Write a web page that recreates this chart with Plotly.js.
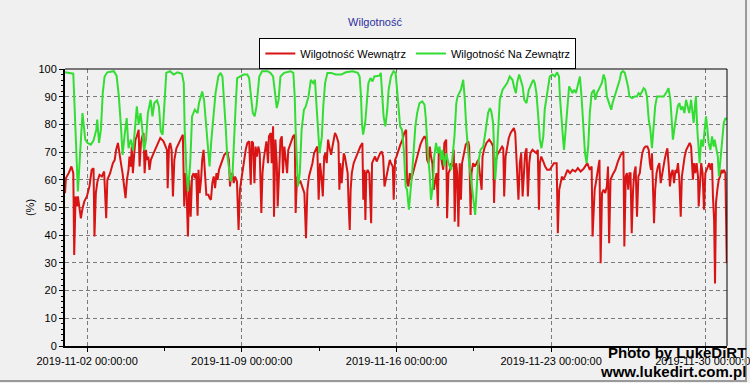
<!DOCTYPE html>
<html>
<head>
<meta charset="utf-8">
<script src="https://cdn.plot.ly/plotly-3.0.1.min.js"></script>
<style>html,body{margin:0;padding:0;background:#f0f0f0;}#chart{width:750px;height:383px;}</style>
</head>
<body>
<div id="chart"></div>
<script>
const seriesNames = ['Wilgotność Wewnątrz', 'Wilgotność Na Zewnątrz'];
const chartTitle = 'Wilgotność';
const yTitle = '(%)';
const tickDates = ['2019-11-02', '2019-11-09', '2019-11-16', '2019-11-23', '2019-11-30'];
const tickLabels = ['2019-11-02 00:00:00', '2019-11-09 00:00:00', '2019-11-16 00:00:00', '2019-11-23 00:00:00', '2019-11-30 00:00:00'];
const watermark = ['Photo by LukeDiRT', 'www.lukedirt.com.pl'];

const redTimes = ['2019-11-01 00:00','2019-11-01 01:00','2019-11-01 04:00','2019-11-01 07:00','2019-11-01 09:00','2019-11-01 10:00','2019-11-01 11:30','2019-11-01 13:00','2019-11-01 14:00','2019-11-01 16:00','2019-11-01 17:15','2019-11-01 18:45','2019-11-01 21:00','2019-11-01 23:45',
'2019-11-02 02:30','2019-11-02 05:00','2019-11-02 07:00','2019-11-02 08:00','2019-11-02 09:30','2019-11-02 11:15','2019-11-02 13:30','2019-11-02 16:00','2019-11-02 18:30','2019-11-02 20:45','2019-11-02 22:00',
'2019-11-03 01:00','2019-11-03 04:00','2019-11-03 06:00','2019-11-03 07:30','2019-11-03 09:30','2019-11-03 11:15','2019-11-03 12:45','2019-11-03 14:30','2019-11-03 16:15','2019-11-03 17:45','2019-11-03 19:15','2019-11-03 21:00','2019-11-03 22:00','2019-11-03 23:30',
'2019-11-04 00:30','2019-11-04 01:45','2019-11-04 03:15','2019-11-04 04:30','2019-11-04 06:00','2019-11-04 08:00','2019-11-04 09:00','2019-11-04 10:30','2019-11-04 12:00','2019-11-04 13:15','2019-11-04 14:30','2019-11-04 16:00','2019-11-04 17:00','2019-11-04 18:30','2019-11-04 19:45','2019-11-04 21:15',
'2019-11-05 00:15','2019-11-05 04:00','2019-11-05 07:30','2019-11-05 11:00','2019-11-05 14:45','2019-11-05 15:30','2019-11-05 17:00','2019-11-05 18:15','2019-11-05 19:45','2019-11-05 21:15','2019-11-05 22:45',
'2019-11-06 01:00','2019-11-06 03:30','2019-11-06 06:00','2019-11-06 08:00','2019-11-06 09:30','2019-11-06 11:00','2019-11-06 12:00','2019-11-06 13:30','2019-11-06 15:00','2019-11-06 16:30','2019-11-06 18:00','2019-11-06 19:45','2019-11-06 21:00','2019-11-06 22:30',
'2019-11-07 00:00','2019-11-07 01:00','2019-11-07 02:15','2019-11-07 03:45','2019-11-07 05:00','2019-11-07 06:30','2019-11-07 08:00','2019-11-07 09:30','2019-11-07 11:45','2019-11-07 13:00','2019-11-07 14:30','2019-11-07 16:00','2019-11-07 17:30','2019-11-07 19:00','2019-11-07 20:30','2019-11-07 21:45','2019-11-07 23:15',
'2019-11-08 02:15','2019-11-08 05:00','2019-11-08 08:15','2019-11-08 10:00','2019-11-08 11:15','2019-11-08 12:15','2019-11-08 13:45','2019-11-08 15:15','2019-11-08 16:45','2019-11-08 18:45','2019-11-08 20:30','2019-11-08 22:00','2019-11-08 23:30',
'2019-11-09 01:00','2019-11-09 02:30','2019-11-09 04:15','2019-11-09 06:00','2019-11-09 08:00','2019-11-09 09:45','2019-11-09 10:45','2019-11-09 12:15','2019-11-09 13:45','2019-11-09 15:00','2019-11-09 16:30','2019-11-09 18:00','2019-11-09 19:30','2019-11-09 21:15','2019-11-09 22:30','2019-11-09 23:45',
'2019-11-10 01:15','2019-11-10 02:45','2019-11-10 04:30','2019-11-10 05:30','2019-11-10 07:30','2019-11-10 08:30','2019-11-10 10:00','2019-11-10 11:00','2019-11-10 12:30','2019-11-10 14:00','2019-11-10 15:00','2019-11-10 16:30','2019-11-10 18:00','2019-11-10 19:30','2019-11-10 20:45','2019-11-10 22:15','2019-11-10 23:45',
'2019-11-11 01:15','2019-11-11 02:30','2019-11-11 05:15','2019-11-11 07:45','2019-11-11 09:30','2019-11-11 10:30','2019-11-11 12:00','2019-11-11 13:30','2019-11-11 15:45','2019-11-11 17:45','2019-11-11 20:00','2019-11-11 21:45','2019-11-11 23:15',
'2019-11-12 01:00','2019-11-12 03:00','2019-11-12 04:45','2019-11-12 06:30','2019-11-12 08:15','2019-11-12 10:00','2019-11-12 11:30','2019-11-12 13:00','2019-11-12 14:30','2019-11-12 16:00','2019-11-12 17:30','2019-11-12 18:45','2019-11-12 20:15','2019-11-12 21:45','2019-11-12 23:00',
'2019-11-13 01:00','2019-11-13 02:30','2019-11-13 04:00','2019-11-13 05:15','2019-11-13 07:00','2019-11-13 09:00','2019-11-13 10:00','2019-11-13 11:00','2019-11-13 12:30','2019-11-13 13:30','2019-11-13 14:45','2019-11-13 16:00','2019-11-13 17:30','2019-11-13 19:00','2019-11-13 20:00','2019-11-13 21:15','2019-11-13 22:15','2019-11-13 23:30',
'2019-11-14 01:30','2019-11-14 04:00','2019-11-14 06:30','2019-11-14 08:45','2019-11-14 11:00','2019-11-14 12:00','2019-11-14 13:15','2019-11-14 14:15','2019-11-14 15:15','2019-11-14 16:45','2019-11-14 18:30','2019-11-14 20:30','2019-11-14 21:30','2019-11-14 23:00',
'2019-11-15 00:45','2019-11-15 02:30','2019-11-15 04:30','2019-11-15 06:15','2019-11-15 08:00','2019-11-15 09:30','2019-11-15 11:00','2019-11-15 12:15','2019-11-15 13:45','2019-11-15 15:15','2019-11-15 16:45','2019-11-15 18:00','2019-11-15 20:00','2019-11-15 21:00','2019-11-15 22:30',
'2019-11-16 00:00','2019-11-16 02:00','2019-11-16 04:15','2019-11-16 06:30','2019-11-16 08:30','2019-11-16 10:30','2019-11-16 11:30','2019-11-16 13:00','2019-11-16 14:30','2019-11-16 16:00','2019-11-16 17:45','2019-11-16 19:30','2019-11-16 21:45','2019-11-16 23:45',
'2019-11-17 02:00','2019-11-17 04:15','2019-11-17 06:30','2019-11-17 08:15','2019-11-17 09:15','2019-11-17 10:45','2019-11-17 12:15','2019-11-17 13:30','2019-11-17 15:00','2019-11-17 16:30','2019-11-17 18:00','2019-11-17 19:30','2019-11-17 21:00','2019-11-17 22:00','2019-11-17 23:45',
'2019-11-18 01:15','2019-11-18 02:45','2019-11-18 04:00','2019-11-18 06:00','2019-11-18 07:00','2019-11-18 08:30','2019-11-18 10:00','2019-11-18 11:30','2019-11-18 12:45','2019-11-18 14:15','2019-11-18 15:15','2019-11-18 16:45','2019-11-18 18:00','2019-11-18 19:15','2019-11-18 20:45','2019-11-18 22:00','2019-11-18 23:15',
'2019-11-19 01:00','2019-11-19 03:15','2019-11-19 06:00','2019-11-19 07:00','2019-11-19 08:30','2019-11-19 09:30','2019-11-19 11:15','2019-11-19 13:00','2019-11-19 15:00','2019-11-19 16:45','2019-11-19 17:45','2019-11-19 19:15','2019-11-19 20:30','2019-11-19 21:30','2019-11-19 23:30',
'2019-11-20 01:45','2019-11-20 04:45','2019-11-20 07:15','2019-11-20 09:00','2019-11-20 10:00','2019-11-20 11:15','2019-11-20 13:30','2019-11-20 16:15','2019-11-20 18:45','2019-11-20 20:00','2019-11-20 21:00','2019-11-20 22:30',
'2019-11-21 00:15','2019-11-21 02:00','2019-11-21 04:00','2019-11-21 05:45','2019-11-21 07:30','2019-11-21 09:00','2019-11-21 10:30','2019-11-21 11:30','2019-11-21 12:30','2019-11-21 14:00','2019-11-21 15:30','2019-11-21 17:00','2019-11-21 18:30','2019-11-21 19:45','2019-11-21 21:15','2019-11-21 22:45',
'2019-11-22 00:15','2019-11-22 01:30','2019-11-22 03:45','2019-11-22 06:15','2019-11-22 08:00','2019-11-22 09:30','2019-11-22 10:45','2019-11-22 11:45','2019-11-22 13:15','2019-11-22 15:30','2019-11-22 17:30','2019-11-22 19:45','2019-11-22 22:30',
'2019-11-23 00:45','2019-11-23 03:00','2019-11-23 06:00','2019-11-23 07:15','2019-11-23 08:45','2019-11-23 10:15','2019-11-23 11:45','2019-11-23 13:00','2019-11-23 15:15','2019-11-23 17:45','2019-11-23 20:30','2019-11-23 23:15',
'2019-11-24 02:15','2019-11-24 05:00','2019-11-24 08:00','2019-11-24 11:00','2019-11-24 13:00','2019-11-24 15:15','2019-11-24 18:00','2019-11-24 20:00','2019-11-24 21:00','2019-11-24 23:15',
'2019-11-25 00:30','2019-11-25 02:00','2019-11-25 03:30','2019-11-25 04:30','2019-11-25 05:45','2019-11-25 07:15','2019-11-25 09:00','2019-11-25 10:45','2019-11-25 12:30','2019-11-25 13:45','2019-11-25 15:00','2019-11-25 16:30','2019-11-25 18:45','2019-11-25 21:45',
'2019-11-26 00:30','2019-11-26 03:30','2019-11-26 06:30','2019-11-26 07:30','2019-11-26 09:00','2019-11-26 10:15','2019-11-26 11:45','2019-11-26 13:00','2019-11-26 14:15','2019-11-26 15:30','2019-11-26 17:00','2019-11-26 18:15','2019-11-26 19:45','2019-11-26 21:15','2019-11-26 22:45',
'2019-11-27 00:15','2019-11-27 01:30','2019-11-27 03:00','2019-11-27 04:45','2019-11-27 06:30','2019-11-27 08:30','2019-11-27 10:00','2019-11-27 11:15','2019-11-27 12:30','2019-11-27 13:30','2019-11-27 14:30','2019-11-27 15:45','2019-11-27 17:00','2019-11-27 18:30','2019-11-27 20:00','2019-11-27 21:30','2019-11-27 23:00',
'2019-11-28 00:30','2019-11-28 01:45','2019-11-28 03:15','2019-11-28 04:45','2019-11-28 06:15','2019-11-28 07:30','2019-11-28 09:00','2019-11-28 10:30','2019-11-28 12:00','2019-11-28 13:30','2019-11-28 15:00','2019-11-28 16:15','2019-11-28 17:45','2019-11-28 19:15','2019-11-28 20:45','2019-11-28 22:00','2019-11-28 23:30',
'2019-11-29 01:00','2019-11-29 02:45','2019-11-29 04:30','2019-11-29 06:30','2019-11-29 08:00','2019-11-29 09:00','2019-11-29 10:00','2019-11-29 11:15','2019-11-29 12:30','2019-11-29 14:00','2019-11-29 15:30','2019-11-29 16:15','2019-11-29 17:45','2019-11-29 19:00','2019-11-29 20:30','2019-11-29 22:00','2019-11-29 23:30',
'2019-11-30 01:00','2019-11-30 02:30','2019-11-30 03:45','2019-11-30 05:15','2019-11-30 06:45','2019-11-30 07:45','2019-11-30 09:00','2019-11-30 10:00','2019-11-30 11:00','2019-11-30 12:30','2019-11-30 14:00','2019-11-30 15:30','2019-11-30 17:00','2019-11-30 18:15','2019-11-30 19:45','2019-11-30 21:15','2019-11-30 22:45'];

const redValues = [55.2,60.6,62.4,64.8,62.4,32.9,54,50.4,54,48,46.1,49.2,52.2,54,
57.6,63.6,64.2,39.5,55.2,59.4,61.8,61.2,63,46.1,60,
62.4,66,67.2,70.8,73.3,68.4,66,62.4,57.6,53.4,60,63.6,68.4,64.8,
72,62.4,69.6,74.5,75.7,78.1,64.8,73.3,75.7,76.9,62.4,70.8,67.2,68.4,63.6,67.2,
69.6,72.7,75.1,73.9,70.8,57,72,73.3,70.8,54,67.2,
71.4,73.3,75.1,76.3,50.4,62.4,56.4,39.5,60,46.7,61.2,62.4,60.6,62.4,
47,63.6,55.2,60,67.2,70.8,62.4,54.6,54.6,53.4,52.8,58.8,61.2,57,62.4,60,63.6,
66.6,69,70.2,67.2,57.6,61.2,62.4,58.8,61.2,59.4,41.9,56.4,60,
63.6,67.2,70.8,73.3,73.9,58.2,73.9,73.3,58.8,72,68.4,72,69.6,48,62.4,67.2,
70.8,73.9,66,75.7,76.9,66,79.3,46.7,74.5,66,50.4,66,74.5,75.7,62.4,72,66,
62.4,70.8,73.3,75.7,76.3,48,61.2,58.8,59.4,57.6,55.2,38.9,56.4,
61.2,63.6,66,69.6,70.8,72,52.8,66,61.2,54,68.4,69.6,66,74.5,72,
69,72,74.5,76.9,75.7,73.3,56.4,66,58.8,63.6,69.6,68.4,66,62.4,51.6,41.9,56.4,62.4,
66,68.4,70.2,72,73.3,52.8,63.6,45.5,62.4,63.6,62.4,44.3,66,67.2,
68.4,66.6,68.4,69.6,70.2,68.4,57.6,60,62.4,64.8,67.2,66,64.8,52.8,67.2,
68.4,70.8,72.7,74.5,76.9,78.1,58.8,57.6,62.4,60,62.4,64.8,67.8,70.2,
72.7,74.5,75.7,74.5,67.2,66,72,68.4,66,56.4,58.8,62.4,50.4,70.8,69.6,
66,63.6,73.3,74.5,46.1,62.4,63.6,66,64.8,70.8,44.9,66,62.4,43.1,66,52.8,66,
69.6,72.7,73.9,72,47.3,62.4,66,64.8,66,67.2,64.8,61.2,56.4,68.4,71.4,
73.3,74.5,73.3,72,51.6,66,69,70.8,72,71.4,54,68.4,
72,75.1,76.9,78.1,78.7,76.9,66,58.8,52.8,66,69.6,54,66,69.6,71.4,54,
66,69.6,70.8,70.2,69.6,70.8,49.2,66,68.4,66.6,64.8,63.6,63.6,
64.8,66,66,40.7,56.4,58.8,61.2,60,61.4,63.6,62.4,63.6,
63,64.2,63,63.9,64.8,66,63.6,64.8,39.5,56.4,
58.8,62.4,66,67.2,29.9,55.2,56.4,55.2,57.6,64.8,37.1,60,61.8,63.6,
66.6,69,70.2,35.9,61.2,62.4,56.4,62.4,62.4,40.7,56.4,62.4,64.8,46.7,61.2,
62.4,66,69.6,71.4,72,72,70.8,66,63.6,69.6,54,44.3,56.4,62.4,64.8,66,58.8,
62.4,64.8,67.2,69.6,71.4,66,57.6,62.4,63.6,58.8,63.6,62.4,66,60,46.7,61.2,66,
68.4,70.8,72,73.3,72,66,60,66,62.4,66,61.2,50.4,62.4,66,62.4,49.2,62.4,
63.6,64.8,66,63.6,66,54,45.5,22.6,51.6,56.4,60,61.2,63.6,62.4,63.6,62.4,29.9];

const greenTimes = ['2019-11-01 00:00','2019-11-01 09:00','2019-11-01 14:00','2019-11-01 16:30','2019-11-01 19:00','2019-11-01 22:00',
'2019-11-02 00:30','2019-11-02 04:00','2019-11-02 07:00','2019-11-02 10:00','2019-11-02 11:00','2019-11-02 13:00','2019-11-02 15:00','2019-11-02 17:00','2019-11-02 19:00','2019-11-02 22:00',
'2019-11-03 05:00','2019-11-03 08:00','2019-11-03 10:30','2019-11-03 13:00','2019-11-03 14:30','2019-11-03 17:00','2019-11-03 19:00','2019-11-03 21:00','2019-11-03 23:30',
'2019-11-04 02:00','2019-11-04 04:00','2019-11-04 06:00','2019-11-04 08:00','2019-11-04 10:00','2019-11-04 12:00','2019-11-04 14:00','2019-11-04 16:00','2019-11-04 18:00','2019-11-04 21:00','2019-11-04 23:00',
'2019-11-05 01:00','2019-11-05 04:00','2019-11-05 06:00','2019-11-05 08:00','2019-11-05 10:00','2019-11-05 12:00','2019-11-05 14:00','2019-11-05 18:00','2019-11-05 22:00',
'2019-11-06 02:00','2019-11-06 07:00','2019-11-06 09:00','2019-11-06 10:00','2019-11-06 12:00','2019-11-06 13:30','2019-11-06 16:00','2019-11-06 18:00','2019-11-06 21:00',
'2019-11-07 00:00','2019-11-07 01:30','2019-11-07 05:00','2019-11-07 07:00','2019-11-07 09:00','2019-11-07 10:30','2019-11-07 13:00','2019-11-07 15:00','2019-11-07 18:00','2019-11-07 19:30','2019-11-07 22:30',
'2019-11-08 01:00','2019-11-08 03:00','2019-11-08 05:00','2019-11-08 06:30','2019-11-08 08:00','2019-11-08 10:00','2019-11-08 12:00','2019-11-08 14:00','2019-11-08 15:30','2019-11-08 17:30','2019-11-08 19:00','2019-11-08 23:00',
'2019-11-09 02:00','2019-11-09 06:00','2019-11-09 08:00','2019-11-09 10:00','2019-11-09 12:00','2019-11-09 14:00','2019-11-09 16:00','2019-11-09 19:00','2019-11-09 22:00',
'2019-11-10 04:00','2019-11-10 07:00','2019-11-10 10:00','2019-11-10 12:00','2019-11-10 14:00','2019-11-10 16:00','2019-11-10 18:00','2019-11-10 22:00',
'2019-11-11 05:00','2019-11-11 08:00','2019-11-11 09:30','2019-11-11 10:30','2019-11-11 11:45','2019-11-11 13:00','2019-11-11 15:00','2019-11-11 17:00','2019-11-11 19:30','2019-11-11 21:30',
'2019-11-12 00:30','2019-11-12 03:00','2019-11-12 05:30','2019-11-12 07:30','2019-11-12 09:00','2019-11-12 11:00','2019-11-12 12:30','2019-11-12 15:00','2019-11-12 16:30','2019-11-12 18:30','2019-11-12 21:00',
'2019-11-13 01:00','2019-11-13 06:00','2019-11-13 12:00','2019-11-13 17:00',
'2019-11-14 00:30','2019-11-14 06:00','2019-11-14 08:00','2019-11-14 09:30','2019-11-14 10:30','2019-11-14 11:45','2019-11-14 14:00','2019-11-14 16:00','2019-11-14 17:30','2019-11-14 19:45','2019-11-14 22:00',
'2019-11-15 00:00','2019-11-15 05:30','2019-11-15 07:00','2019-11-15 08:30','2019-11-15 10:00','2019-11-15 12:00','2019-11-15 14:00','2019-11-15 15:30','2019-11-15 18:00','2019-11-15 20:45','2019-11-15 23:00',
'2019-11-16 01:00','2019-11-16 02:30','2019-11-16 04:00','2019-11-16 06:00','2019-11-16 08:00','2019-11-16 10:00','2019-11-16 11:30','2019-11-16 13:30','2019-11-16 15:00','2019-11-16 17:00','2019-11-16 19:00','2019-11-16 20:30','2019-11-16 22:30',
'2019-11-17 01:00','2019-11-17 04:00','2019-11-17 06:30','2019-11-17 08:00','2019-11-17 10:00','2019-11-17 12:00','2019-11-17 13:30','2019-11-17 15:30','2019-11-17 17:00','2019-11-17 19:00','2019-11-17 21:00','2019-11-17 22:45',
'2019-11-18 00:30','2019-11-18 02:00','2019-11-18 04:00','2019-11-18 06:00','2019-11-18 08:30','2019-11-18 11:30','2019-11-18 13:00','2019-11-18 15:00','2019-11-18 17:00','2019-11-18 18:30','2019-11-18 22:00',
'2019-11-19 00:30','2019-11-19 02:00','2019-11-19 04:00','2019-11-19 07:00','2019-11-19 09:30','2019-11-19 12:00','2019-11-19 13:30','2019-11-19 15:00','2019-11-19 16:45','2019-11-19 19:15','2019-11-19 22:15',
'2019-11-20 01:00','2019-11-20 03:30','2019-11-20 05:30','2019-11-20 07:00','2019-11-20 09:00','2019-11-20 10:00','2019-11-20 11:15','2019-11-20 12:45','2019-11-20 14:30','2019-11-20 16:15','2019-11-20 19:15','2019-11-20 21:45',
'2019-11-21 00:15','2019-11-21 03:00','2019-11-21 06:00','2019-11-21 08:00','2019-11-21 09:45','2019-11-21 11:00','2019-11-21 13:15','2019-11-21 15:00','2019-11-21 17:00','2019-11-21 18:45','2019-11-21 21:15','2019-11-21 23:45',
'2019-11-22 02:45','2019-11-22 04:30','2019-11-22 06:15','2019-11-22 08:00','2019-11-22 10:00','2019-11-22 11:45','2019-11-22 13:30','2019-11-22 15:30','2019-11-22 17:00','2019-11-22 19:00','2019-11-22 20:45','2019-11-22 22:30',
'2019-11-23 01:30','2019-11-23 04:00','2019-11-23 06:30','2019-11-23 08:30','2019-11-23 09:30','2019-11-23 11:15','2019-11-23 13:00','2019-11-23 14:00','2019-11-23 15:30','2019-11-23 17:30','2019-11-23 19:30','2019-11-23 21:30','2019-11-23 23:15',
'2019-11-24 01:00','2019-11-24 03:00','2019-11-24 05:30','2019-11-24 07:15','2019-11-24 09:00','2019-11-24 11:00','2019-11-24 12:45','2019-11-24 14:30','2019-11-24 16:15','2019-11-24 18:00','2019-11-24 20:00','2019-11-24 22:30',
'2019-11-25 00:00','2019-11-25 01:45','2019-11-25 03:30','2019-11-25 05:30','2019-11-25 07:00','2019-11-25 09:00','2019-11-25 10:45','2019-11-25 12:30','2019-11-25 14:30','2019-11-25 17:15','2019-11-25 18:45','2019-11-25 21:00','2019-11-25 22:45',
'2019-11-26 00:30','2019-11-26 02:30','2019-11-26 04:00','2019-11-26 06:00','2019-11-26 08:00','2019-11-26 09:30','2019-11-26 11:30','2019-11-26 13:00','2019-11-26 16:00','2019-11-26 18:45','2019-11-26 21:15','2019-11-26 23:00',
'2019-11-27 00:45','2019-11-27 02:45','2019-11-27 04:30','2019-11-27 06:15','2019-11-27 08:00','2019-11-27 10:00','2019-11-27 11:45','2019-11-27 13:30','2019-11-27 15:15','2019-11-27 17:00','2019-11-27 19:00','2019-11-27 22:30',
'2019-11-28 02:15','2019-11-28 05:45','2019-11-28 07:30','2019-11-28 09:30','2019-11-28 10:30','2019-11-28 12:15','2019-11-28 14:15','2019-11-28 15:30','2019-11-28 17:30','2019-11-28 19:15','2019-11-28 21:00','2019-11-28 22:45',
'2019-11-29 00:45','2019-11-29 02:30','2019-11-29 04:15','2019-11-29 06:00','2019-11-29 08:00','2019-11-29 09:45','2019-11-29 10:45','2019-11-29 12:30','2019-11-29 13:15','2019-11-29 14:45','2019-11-29 16:15','2019-11-29 17:15','2019-11-29 19:00','2019-11-29 21:00','2019-11-29 22:45',
'2019-11-30 00:15','2019-11-30 01:45','2019-11-30 03:00','2019-11-30 05:00','2019-11-30 06:45','2019-11-30 08:30','2019-11-30 09:30','2019-11-30 11:00','2019-11-30 13:00','2019-11-30 14:15','2019-11-30 15:45','2019-11-30 17:30','2019-11-30 19:30','2019-11-30 21:15','2019-11-30 22:45'];

const greenValues = [98.8,98.3,55.8,70.8,84.1,74.5,
73.3,72.7,74.2,78.1,81.7,73.3,78.1,91.3,97.3,98.8,
99.2,97.6,90.1,78.1,69,76.9,82.3,71.4,74.5,
70.6,80.5,86.5,79.9,84.1,78.1,70.6,74.5,84.1,88.9,82.9,
87.7,88.7,86.5,77.5,76.3,90.1,98.6,99.2,98,
98.8,98.3,94.9,78.1,62.4,55.8,66,82.9,85.3,
84.1,87.7,91.9,88.9,81.7,74.5,64.8,74.5,84.1,91.3,97.3,
98.6,97.3,88.9,79.3,69.6,63.6,59.4,62.4,75.7,87.7,96.7,97.3,
98,98,96.7,90.1,84.1,82.9,86.5,97.3,99.2,
99.2,98.6,97.3,91.3,85.9,88.9,97.3,98.6,
99.2,98.6,90.1,78.1,66,57.6,62.4,78.1,85.3,86.5,
90.1,96.1,94.9,96.1,87.7,78.1,69.6,75.7,86.5,94.9,98.6,
98.6,98,98,98.8,
99.2,98.6,97.3,90.1,80.5,76.3,80.5,90.1,94.9,96.7,95.5,
97.3,97.6,98.6,90.1,82.9,79.3,85.3,92.5,97.3,99.2,98.6,
91.3,86.5,79.3,78.1,70.8,57.6,56.4,49.2,54,62.4,72,79.3,84.1,
87.7,88.3,87.1,81.7,69.6,62.4,52.8,57.6,68.4,73.3,69.6,72,
67.2,70.8,64.8,69.6,66,63.6,68.4,75.7,87.7,90.1,92.5,
96.1,90.1,78.1,66,57.6,51.6,47.3,56.4,66,70.8,72,
78.1,84.1,85.9,84.7,80.5,68.4,60,67.2,78.1,88.9,92.5,93.7,
94.9,97.3,96.1,93.1,91.3,94.9,98,96.1,93.7,88.9,87.7,92.5,
94.9,96.1,94.9,91.3,82.9,74.5,71.4,75.7,85.3,90.1,93.7,97.3,
98,97.3,98.8,97.3,90.1,80.5,74.5,70.8,78.1,87.7,93.7,92.5,91.3,
92.5,91.3,94.9,97.3,90.1,79.3,69.6,66,72,84.1,91.3,92.5,
88.9,91.3,92.5,93.7,94.9,98,96.1,90.1,87.7,85.3,87.7,90.1,92.5,
93.7,96.1,98.6,99.2,98.6,96.7,93.7,90.1,89.5,90.1,90.1,91.3,
90.7,91.9,93.1,92.5,90.1,81.7,78.1,71.4,78.1,86.5,90.1,90.1,
90.1,91.9,93.1,88.9,81.7,74.5,79.3,82.9,86.5,87.7,85.3,86.5,
84.1,88.9,86.5,84.1,88.9,81.7,80.5,87.7,90.1,78.1,69.6,66,74.5,72,78.1,
82.9,78.1,73.3,70.8,75.7,72,74.5,72,68.4,61.2,66,73.3,80.5,82.3,81.7];

const font = 'Liberation Sans, Arial, sans-serif';

const traces = [
  {x: redTimes, y: redValues, name: seriesNames[0], type: 'scatter', mode: 'lines',
   line: {color: '#d81414', width: 2}},
  {x: greenTimes, y: greenValues, name: seriesNames[1], type: 'scatter', mode: 'lines',
   line: {color: '#33dd33', width: 2}}
];

const layout = {
  width: 750, height: 383,
  paper_bgcolor: '#f0f0f0', plot_bgcolor: '#f0f0f0',
  margin: {l: 65, r: 23, t: 69, b: 37},
  font: {family: font, size: 11, color: '#000'},
  title: {text: chartTitle, font: {family: font, size: 11, color: '#2e2ea0'},
          x: 0.5, xref: 'container', y: 0.943, yref: 'container', yanchor: 'middle'},
  showlegend: true,
  legend: {orientation: 'h', x: 0.533, xanchor: 'center', y: 1.112, yanchor: 'top',
           bgcolor: '#ffffff', bordercolor: '#000', borderwidth: 1,
           font: {family: font, size: 11, color: '#000'}, itemwidth: 30},
  xaxis: {
    type: 'date', range: ['2019-11-01 00:00', '2019-11-30 23:00'],
    tickvals: tickDates, ticktext: tickLabels, ticklabeloverflow: 'allow',
    showgrid: true, gridcolor: '#7a7a7a', griddash: '4px,3px', gridwidth: 1,
    showline: true, linecolor: '#000', linewidth: 2,
    ticks: 'outside', ticklen: 4, tickcolor: '#000', tickwidth: 1,
    minor: {tick0: '2019-11-05 12:00', dtick: 302400000, ticks: 'outside', ticklen: 3, tickcolor: '#000', showgrid: false},
    tickfont: {family: font, size: 11, color: '#000'},
    zeroline: false, fixedrange: true
  },
  yaxis: {
    range: [0, 100], tick0: 0, dtick: 10,
    showgrid: true, gridcolor: '#7a7a7a', griddash: '4px,3px', gridwidth: 1,
    showline: true, linecolor: '#000', linewidth: 2,
    ticks: 'outside', ticklen: 4, tickcolor: '#000', tickwidth: 1,
    minor: {dtick: 2, ticks: 'outside', ticklen: 2, tickcolor: '#000', showgrid: false},
    tickfont: {family: font, size: 11, color: '#000'},
    title: {text: yTitle, font: {family: font, size: 11, color: '#000'}, standoff: 2},
    zeroline: false, fixedrange: true
  },
  shapes: [
    {type: 'line', xref: 'paper', yref: 'paper', x0: 0, x1: 1, y0: 1, y1: 1, line: {color: '#000', width: 1}},
    {type: 'line', xref: 'paper', yref: 'paper', x0: 1, x1: 1, y0: 0, y1: 1, line: {color: '#000', width: 1}},
    {type: 'line', xref: 'paper', yref: 'paper', x0: 1.0287, x1: 1.0287, y0: -0.13, y1: 1.25, line: {color: '#9a9a9a', width: 2}},
    {type: 'line', xref: 'paper', yref: 'paper', x0: -0.1, x1: 1.0287, y0: -0.1264, y1: -0.1264, line: {color: '#9a9a9a', width: 2}}
  ],
  annotations: [
    {text: '<b>' + watermark[0] + '</b>', xref: 'paper', yref: 'paper', x: 1.0317, y: -0.0217,
     xanchor: 'right', yanchor: 'middle', showarrow: false, font: {family: font, size: 15, color: '#000'}},
    {text: '<b>' + watermark[1] + '</b>', xref: 'paper', yref: 'paper', x: 1.0317, y: -0.0903,
     xanchor: 'right', yanchor: 'middle', showarrow: false, font: {family: font, size: 15, color: '#000'}}
  ]
};

Plotly.newPlot('chart', traces, layout, {displayModeBar: false, staticPlot: true});
</script>
</body>
</html>
